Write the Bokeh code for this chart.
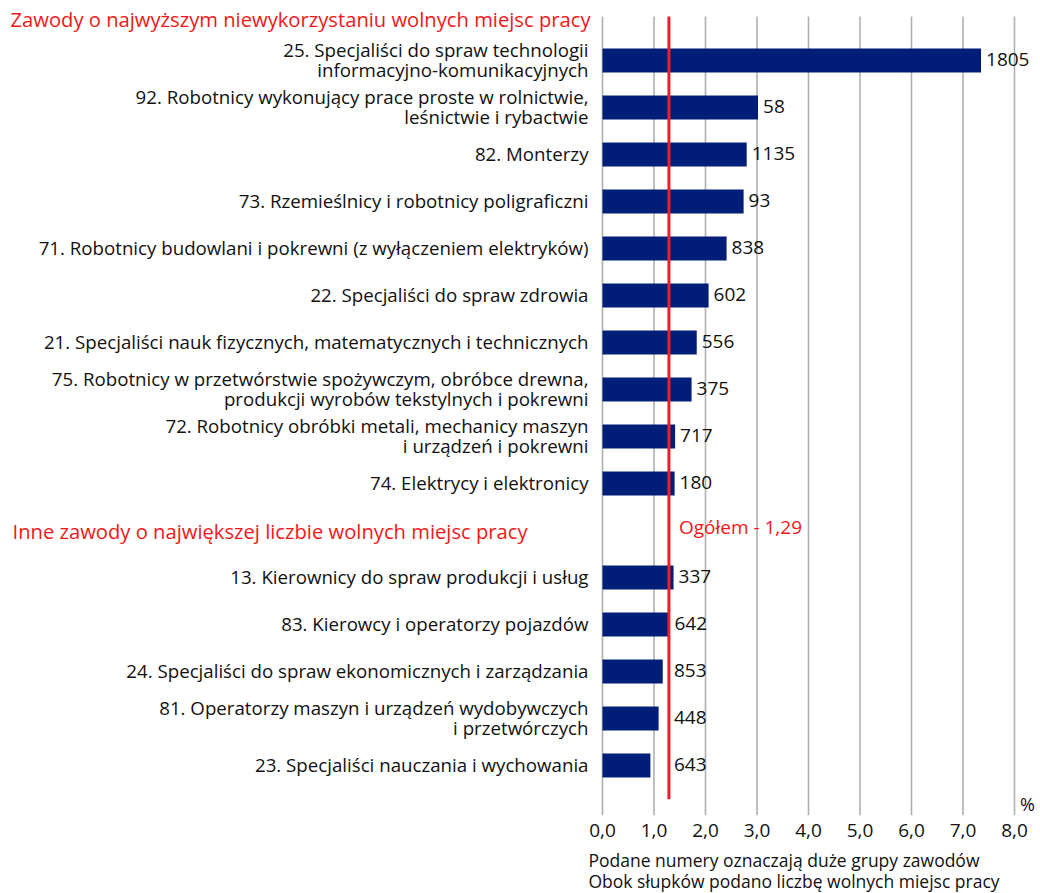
from bokeh.plotting import figure
from bokeh.models import Range1d
from bokeh.embed import file_html
from bokeh.resources import INLINE
from bokeh.core.properties import value

# ---------------- data ----------------
heading_top = "Zawody o najwyższym niewykorzystaniu wolnych miejsc pracy"
heading_other = "Inne zawody o największej liczbie wolnych miejsc pracy"

labels_top = [
    "25. Specjaliści do spraw technologii\ninformacyjno-komunikacyjnych",
    "92. Robotnicy wykonujący prace proste w rolnictwie,\nleśnictwie i rybactwie",
    "82. Monterzy",
    "73. Rzemieślnicy i robotnicy poligraficzni",
    "71. Robotnicy budowlani i pokrewni (z wyłączeniem elektryków)",
    "22. Specjaliści do spraw zdrowia",
    "21. Specjaliści nauk fizycznych, matematycznych i technicznych",
    "75. Robotnicy w przetwórstwie spożywczym, obróbce drewna,\nprodukcji wyrobów tekstylnych i pokrewni",
    "72. Robotnicy obróbki metali, mechanicy maszyn\ni urządzeń i pokrewni",
    "74. Elektrycy i elektronicy",
]
share_top = [7.35, 3.02, 2.80, 2.74, 2.41, 2.06, 1.83, 1.73, 1.41, 1.40]
vacancies_top = [1805, 58, 1135, 93, 838, 602, 556, 375, 717, 180]

labels_other = [
    "13. Kierownicy do spraw produkcji i usług",
    "83. Kierowcy i operatorzy pojazdów",
    "24. Specjaliści do spraw ekonomicznych i zarządzania",
    "81. Operatorzy maszyn i urządzeń wydobywczych\ni przetwórczych",
    "23. Specjaliści nauczania i wychowania",
]
share_other = [1.38, 1.30, 1.17, 1.09, 0.93]
vacancies_other = [337, 642, 853, 448, 643]

overall = 1.29
overall_label = "Ogółem - 1,29"

tick_values = [0, 1, 2, 3, 4, 5, 6, 7, 8]
tick_labels = ["0,0", "1,0", "2,0", "3,0", "4,0", "5,0", "6,0", "7,0", "8,0"]
unit_label = "%"
notes = ["Podane numery oznaczają duże grupy zawodów",
         "Obok słupków podano liczbę wolnych miejsc pracy"]

# ---------------- layout ----------------
FONT = value("Open Sans")
NAVY = "#001e78"
RED = "#e8202a"
HEAD_RED = "#f21818"
INK = "#111111"

rows_top = list(range(len(labels_top)))
gap_row = len(labels_top)
rows_other = [gap_row + 1 + i for i in range(len(labels_other))]

labels = labels_top + labels_other
shares = share_top + share_other
vacancies = vacancies_top + vacancies_other
rows = rows_top + rows_other

W, H = 1040, 893
p = figure(width=W, height=H, output_backend="svg", toolbar_location=None,
           x_axis_location=None, y_axis_location=None,
           x_range=Range1d(-11.689, 8.505), y_range=Range1d(17.723, -1.2766),
           min_border=0, outline_line_color=None)
p.xgrid.visible = False
p.ygrid.visible = False
p.background_fill_color = "white"
p.border_fill_color = "white"

grid_top = -0.936
grid_bottom = 16.06
red_bottom = 15.72

# vertical gridlines
p.segment(x0=tick_values, y0=[grid_top] * len(tick_values),
          x1=tick_values, y1=[grid_bottom] * len(tick_values),
          line_color="#b0b0b0", line_width=1.6)

# bars
p.hbar(y=rows, left=0, right=shares, height=0.51, fill_color=NAVY, line_color=None)

# overall line
p.segment(x0=[overall], y0=[grid_top], x1=[overall], y1=[red_bottom],
          line_color=RED, line_width=3)

# category labels
p.text(x=[0] * len(rows), y=rows, text=labels, x_offset=-14, y_offset=-1,
       text_align="right", text_baseline="middle", text_font=FONT,
       text_font_size="18.7px", text_line_height=0.8, text_color=INK)

# value labels
p.text(x=[max(v, overall) for v in shares], y=rows, text=[str(v) for v in vacancies],
       x_offset=5, y_offset=-1, text_align="left", text_baseline="middle", text_font=FONT,
       text_font_size="19px", text_color=INK)

# headings
x0 = p.x_range.start
p.text(x=[x0], y=[-0.872], text=[heading_top], x_offset=10, y_offset=-1,
       text_align="left", text_baseline="middle", text_font=FONT,
       text_font_size="20.2px", text_color=HEAD_RED)
p.text(x=[x0], y=[gap_row + 0.04], text=[heading_other], x_offset=12, y_offset=-1,
       text_align="left", text_baseline="middle", text_font=FONT,
       text_font_size="20.2px", text_color=HEAD_RED)

# overall label
p.text(x=[overall], y=[gap_row - 0.06], text=[overall_label], x_offset=10, y_offset=-1,
       text_align="left", text_baseline="middle", text_font=FONT,
       text_font_size="19px", text_color=HEAD_RED)

# x tick labels
p.text(x=tick_values, y=[16.38] * len(tick_values), text=tick_labels,
       text_align="center", text_baseline="middle", text_font=FONT,
       text_font_size="19px", text_color=INK)
p.text(x=[tick_values[-1]], y=[15.81], text=[unit_label], x_offset=13,
       text_align="center", text_baseline="middle", text_font=FONT,
       text_font_size="18px", text_color=INK)

# notes
p.text(x=[0, 0], y=[17.02, 17.45], text=notes, x_offset=-14,
       text_align="left", text_baseline="middle", text_font=FONT,
       text_font_size="17.5px", text_color=INK)

open("out.html", "w").write(file_html(p, INLINE))
